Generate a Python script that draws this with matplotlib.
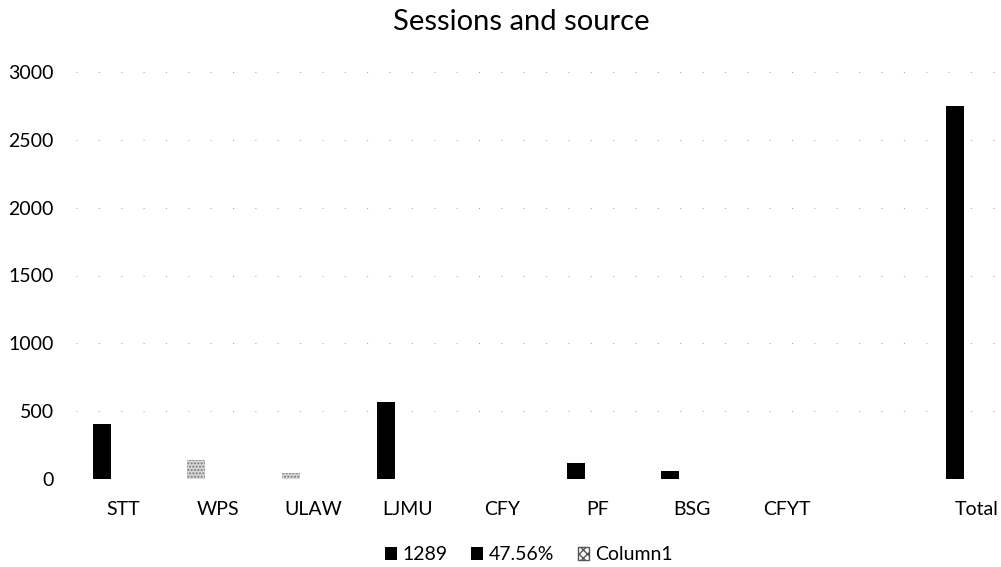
import matplotlib.pyplot as plt
from matplotlib.patches import Patch
import numpy as np

plt.rcParams['font.family'] = ['Lato', 'DejaVu Sans']

sources = ['STT', 'WPS', 'ULAW', 'LJMU', 'CFY', 'PF', 'BSG', 'CFYT', '', 'Total']
sessions = [405, 140, 45, 570, 0, 118, 59, 0, 0, 2750]
share = [0, 0, 0, 0, 0, 0, 0, 0, 0, 0]
column1 = [0, 0, 0, 0, 0, 0, 0, 0, 0, 0]
patterned = ['WPS', 'ULAW']

fig = plt.figure(figsize=(10.01, 5.67), dpi=100)
ax = fig.add_axes([76 / 1001, 88 / 567, 948 / 1001, 407 / 567])

x = np.arange(len(sources))
w = 0.19

bars = ax.bar(x - 0.23, sessions, w, color='black', zorder=3)
for b, s in zip(bars, sources):
    if s in patterned:
        b.set_facecolor('#d8d8d8')
        b.set_edgecolor('#777777')
        b.set_hatch('.....')
        b.set_linewidth(0)
ax.bar(x, share, w, color='black', linewidth=0, zorder=3)
ax.bar(x + 0.23, column1, w, color='white', linewidth=0, zorder=3)

ax.set_xlim(-0.5, len(sources) - 0.5)
ax.set_ylim(0, 3000)
ax.set_yticks(np.arange(0, 3001, 500))
ax.set_xticks(x)
ax.set_xticklabels(sources)
ax.tick_params(axis='both', length=0, labelsize=14)
ax.tick_params(axis='x', pad=16)
ax.tick_params(axis='y', pad=16)
for sp in ax.spines.values():
    sp.set_visible(False)
ax.yaxis.grid(True, color='#999999', linestyle=(0, (1, 22)), linewidth=0.7, zorder=0)

fig.text(521 / 1001, 1 - 22 / 567, 'Sessions and source', ha='center', va='center', fontsize=21)

handles = [Patch(facecolor='black', label='1289'),
           Patch(facecolor='black', label='47.56%'),
           Patch(facecolor='white', edgecolor='#555555', hatch='xxxx', label='Column1')]
fig.legend(handles=handles, loc='center', bbox_to_anchor=(529 / 1001, 1 - 555 / 567), ncol=3,
           frameon=False, fontsize=14, handlelength=0.6, handleheight=0.6,
           handletextpad=0.3, columnspacing=1.2)

fig.savefig('out.png', dpi=100)
